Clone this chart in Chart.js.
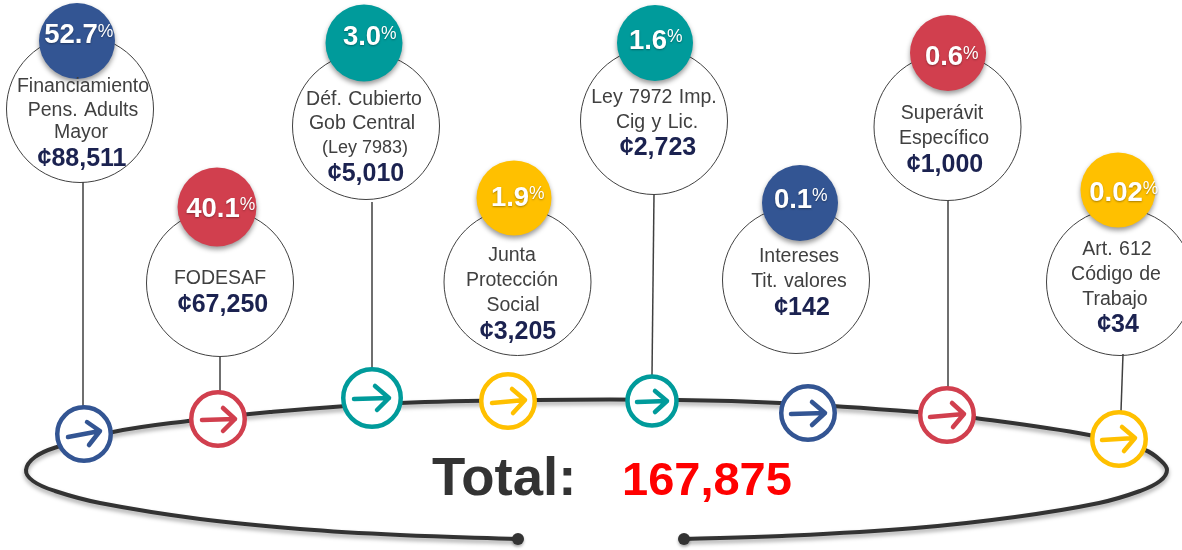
<!DOCTYPE html>
<html lang="es">
<head>
<meta charset="utf-8">
<title>Ingresos</title>
<script src="https://cdn.jsdelivr.net/npm/chart.js@4"></script>
<style>
  html, body { margin: 0; padding: 0; background: #fff; }
  canvas { display: block; }
</style>
</head>
<body>
<canvas id="chart" width="1182" height="550"></canvas>
<script>
/* ========= Datos ========= */
const categories = [
  ["Financiamiento", "Pens. Adults", "Mayor"],
  ["FODESAF"],
  ["Déf. Cubierto", "Gob Central", "(Ley 7983)"],
  ["Junta", "Protección", "Social"],
  ["Ley 7972 Imp.", "Cig y Lic."],
  ["Intereses", "Tit. valores"],
  ["Superávit", "Específico"],
  ["Art. 612", "Código de", "Trabajo"],
];
const percents = [52.7, 40.1, 3.0, 1.9, 1.6, 0.1, 0.6, 0.02];
const amounts = [88511, 67250, 5010, 3205, 2723, 142, 1000, 34];
const totalLabel = "Total:";
const totalValue = 167875;

/* ========= Layout (en pixeles de la figura) ========= */
const BLUE = "#335593", RED = "#d13f4e", TEAL = "#009b9b", YELLOW = "#ffc000";
const nodeColors = [BLUE, RED, TEAL, YELLOW, TEAL, BLUE, RED, YELLOW];

const badgeCenters = [[77, 41], [217, 207], [364, 43], [514, 198], [655, 43], [800, 203], [948, 53], [1118, 190]];
const badgeRadius = [38, 39.5, 38.5, 37.5, 38, 38, 38, 37.5];
const bubbleCenters = [[80, 109], [220, 283], [366, 126], [517.5, 282], [654, 121], [796, 280], [947.5, 127], [1120, 282]];
const ringCenters = [[84, 434], [218, 419], [372, 398], [508, 401], [652, 401], [808, 413], [947, 415], [1119, 439]];
const ringRadius = [26.75, 26.75, 28.75, 26.75, 24.5, 26.75, 26.75, 26.75];

const stems = [
  [[83, 182], [83, 406]],
  [[220, 357], [220, 391]],
  [[372, 202], [372, 368]],
  [[654, 194], [652, 375]],
  [[948, 200], [948, 387]],
  [[1123, 354], [1121, 411]],
];

// cola, punta, ala, punta, ala
const arrows = [
  [[68, 437], [100, 431], [87, 422], [100, 431], [89, 445]],
  [[202, 420], [235, 419], [223, 408], [235, 419], [223, 431]],
  [[354, 399], [389, 398], [375, 386], [389, 398], [377, 410]],
  [[492, 403], [525, 400], [512, 389], [525, 400], [513, 413]],
  [[637, 402], [667, 401], [655, 391], [667, 401], [655, 412]],
  [[791, 414], [825, 413], [812, 402], [825, 413], [812, 425]],
  [[930, 417], [964, 414], [952, 403], [964, 414], [953, 427]],
  [[1102, 440], [1135, 438], [1122, 427], [1135, 438], [1124, 451]],
];

const loopPath = [
  [518, 539], [400, 535], [300, 529], [200, 519], [100, 503], [55, 491], [33, 481], [26, 470], [35, 457], [57, 447],
  [113, 432], [188, 421], [270, 412], [400, 403], [537, 400], [678, 400],
  [780, 403], [917, 412], [975, 418], [1089, 435], [1145, 450], [1160, 460], [1167, 470], [1160, 481], [1140, 491],
  [1099, 503], [1015, 517], [915, 528], [782, 536], [684, 539],
];
const loopEnds = [[518, 539], [684, 539]];

const nameLines = [
  [[83, 92], [83, 116], [81, 138]],
  [[220, 284]],
  [[364, 105], [362, 129], [365, 153]],
  [[512, 261], [512, 286], [513, 311]],
  [[654, 103], [657, 128]],
  [[799, 262], [799, 287]],
  [[942, 119], [944, 144]],
  [[1117, 255], [1116, 280], [1115, 305]],
];
const amountPos = [[82, 166], [223, 312], [366, 181], [518, 339], [658, 155], [802, 315], [945, 172], [1118, 332]];
const pctPos = [[71, 43], [213, 217], [362, 45], [510, 206], [648, 49], [793, 208], [944, 65], [1116, 201]];
const pctSignDy = [-6, -7, -6, -7, -7, -7, -6, -7];

const toXY = (pts) => pts.map(([x, y]) => ({ x, y }));

// Sin esto Chart.js encoge el area del grafico segun el radio de los puntos
Chart.registry.getController("scatter").prototype.getMaxOverflow = () => 0;

/* ========= Sombras por dataset ========= */
const shadowPlugin = {
  id: "shadowPlugin",
  beforeDatasetDraw(chart, args) {
    const s = chart.data.datasets[args.index].shadow;
    if (!s) return;
    const ctx = chart.ctx;
    ctx.save();
    ctx.shadowColor = s.color;
    ctx.shadowBlur = s.blur;
    ctx.shadowOffsetY = s.y;
    ctx.shadowOffsetX = s.x || 0;
  },
  afterDatasetDraw(chart, args) {
    if (chart.data.datasets[args.index].shadow) chart.ctx.restore();
  },
};

/* ========= Textos ========= */
const fmtPct = (v) => (v < 0.1 ? v.toFixed(2) : v.toFixed(1));
const fmtAmount = (v) => "¢" + v.toLocaleString("en-US");

const textPlugin = {
  id: "textPlugin",
  afterDatasetsDraw(chart) {
    const { ctx, scales } = chart;
    const px = (x) => scales.x.getPixelForValue(x);
    const py = (y) => scales.y.getPixelForValue(y);
    const put = (txt, x, y, font, color, align = "center") => {
      ctx.font = font;
      ctx.fillStyle = color;
      ctx.textAlign = align;
      ctx.textBaseline = "alphabetic";
      ctx.fillText(txt, px(x), py(y));
    };

    ctx.save();
    categories.forEach((lines, i) => {
      lines.forEach((line, j) => {
        const [x, y] = nameLines[i][j];
        const small = line.startsWith("(");
        ctx.wordSpacing = small ? "0px" : "1px";
        put(line, x, y, `${small ? 18 : 19.5}px "Liberation Sans"`, "#404040");
        ctx.wordSpacing = "0px";
      });
      put(fmtAmount(amounts[i]), amountPos[i][0], amountPos[i][1], 'bold 25px "Liberation Sans"', "#1b2250");

      // porcentaje con el signo en chico y arriba
      const num = fmtPct(percents[i]);
      const [x, y] = pctPos[i];
      ctx.save();
      ctx.shadowColor = "rgba(0,0,0,0.35)";
      ctx.shadowBlur = 2;
      ctx.shadowOffsetY = 1;
      put(num, x, y, 'bold 27.5px "Liberation Sans"', "#fff");
      const w = ctx.measureText(num).width;
      put("%", x + w / 2, y + pctSignDy[i], '17.5px "Liberation Sans"', "#fff", "left");
      ctx.restore();
    });

    put(totalLabel, 432, 495, 'bold 54.5px "Liberation Sans"', "#333", "left");
    put(totalValue.toLocaleString("en-US"), 622, 495, 'bold 47px "Liberation Sans"', "#ff0000", "left");
    ctx.restore();
  },
};

/* ========= Chart ========= */
// El primer dataset se pinta encima de los demas
const softShadow = { color: "rgba(0,0,0,0.4)", blur: 5, y: 3 };
const datasets = [
  {
    label: "Porcentaje",
    data: toXY(badgeCenters),
    pointRadius: badgeRadius,
    pointBackgroundColor: nodeColors,
    pointBorderWidth: 0,
    shadow: softShadow,
  },
  ...arrows.map((a, i) => ({
    label: `Flecha ${i + 1}`,
    data: toXY(a),
    showLine: true,
    borderColor: nodeColors[i],
    borderWidth: 4.5,
    borderCapStyle: "round",
    borderJoinStyle: "round",
    pointRadius: 0,
  })),
  {
    label: "Aros",
    data: toXY(ringCenters),
    pointRadius: ringRadius,
    pointBackgroundColor: "#fff",
    pointBorderColor: nodeColors,
    pointBorderWidth: 4.5,
  },
  {
    label: "Extremos",
    data: toXY(loopEnds),
    pointRadius: 6,
    pointBackgroundColor: "#333",
    pointBorderWidth: 0,
    shadow: { color: "rgba(0,0,0,0.3)", blur: 3, y: 2 },
  },
  ...stems.map((s, i) => ({
    label: `Linea ${i + 1}`,
    data: toXY(s),
    showLine: true,
    borderColor: "#404040",
    borderWidth: 1.5,
    pointRadius: 0,
  })),
  {
    label: "Categorias",
    data: toXY(bubbleCenters),
    pointRadius: 73.5,
    pointBackgroundColor: "#fff",
    pointBorderColor: "#404040",
    pointBorderWidth: 1,
  },
  {
    label: "Ciclo",
    data: toXY(loopPath),
    showLine: true,
    tension: 0.4,
    borderColor: "#333",
    borderWidth: 4,
    pointRadius: 0,
    shadow: { color: "rgba(0,0,0,0.35)", blur: 4, y: 3 },
  },
];

new Chart(document.getElementById("chart"), {
  type: "scatter",
  data: { datasets },
  options: {
    responsive: false,
    animation: false,
    events: [],
    layout: { padding: 0 },
    clip: false,
    plugins: { legend: { display: false }, tooltip: { enabled: false } },
    scales: {
      x: { type: "linear", min: 0, max: 1182, display: false },
      y: { type: "linear", min: 0, max: 550, reverse: true, display: false },
    },
  },
  plugins: [shadowPlugin, textPlugin],
});
</script>
</body>
</html>
